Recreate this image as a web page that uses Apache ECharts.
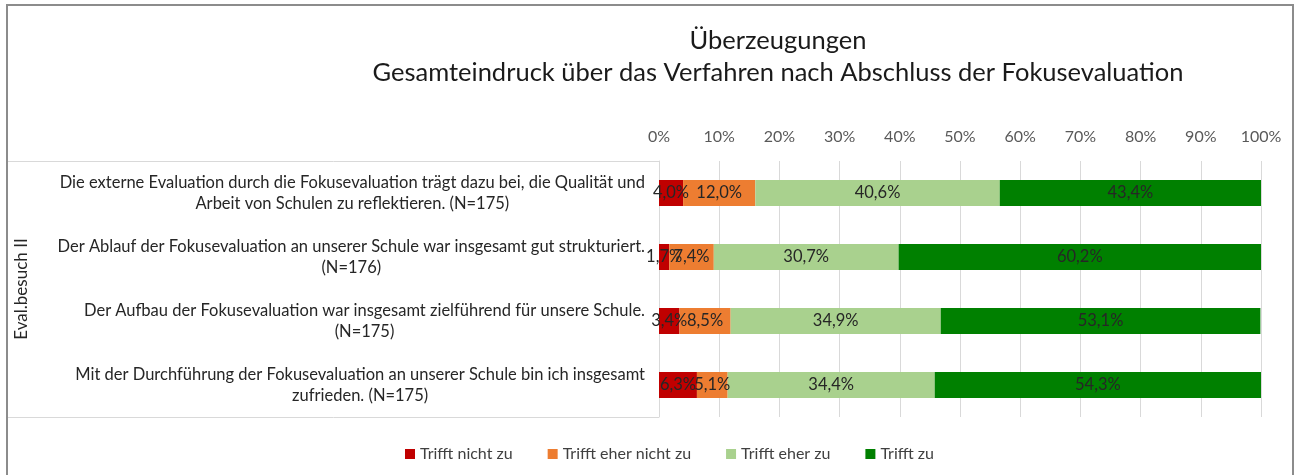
<!DOCTYPE html>
<html>
<head>
<meta charset="utf-8">
<script src="https://cdn.jsdelivr.net/npm/echarts@6/dist/echarts.min.js"></script>
<style>
  html, body { margin: 0; padding: 0; background: #fff; }
  #chart { width: 1297px; height: 475px; }
</style>
</head>
<body>
<div id="chart"></div>
<script>
// Aussagen (von oben nach unten)
const categories = [
  'Die externe Evaluation durch die Fokusevaluation trägt dazu bei, die Qualität und\nArbeit von Schulen zu reflektieren. (N=175)',
  'Der Ablauf der Fokusevaluation an unserer Schule war insgesamt gut strukturiert.\n(N=176)',
  'Der Aufbau der Fokusevaluation war insgesamt zielführend für unsere Schule.\n(N=175)',
  'Mit der Durchführung der Fokusevaluation an unserer Schule bin ich insgesamt\nzufrieden. (N=175)'
];
const seriesNames = ['Trifft nicht zu', 'Trifft eher nicht zu', 'Trifft eher zu', 'Trifft zu'];
const trifftNicht = [4.0, 1.7, 3.4, 6.3];
const trifftEherNicht = [12.0, 7.4, 8.5, 5.1];
const trifftEher = [40.6, 30.7, 34.9, 34.4];
const trifftZu = [43.4, 60.2, 53.1, 54.3];
const groupLabel = 'Eval.besuch II';

const colors = ['#c00000', '#ed7d31', '#a9d18e', '#008000'];
const font = 'Lato, "Open Sans", sans-serif';

const chart = echarts.init(document.getElementById('chart'));

const fmtPct = v => v.toFixed(1).replace('.', ',') + '%';

const series = [trifftNicht, trifftEherNicht, trifftEher, trifftZu].map((data, i) => ({
  name: seriesNames[i],
  type: 'bar',
  stack: 'total',
  barWidth: 26,
  data: data,
  itemStyle: { color: colors[i] },
  label: {
    show: true,
    position: 'inside',
    color: '#262626',
    fontFamily: font,
    fontSize: 16.5,
    formatter: p => fmtPct(p.value)
  }
}));

const option = {
  animation: false,
  title: {
    text: 'Überzeugungen\nGesamteindruck über das Verfahren nach Abschluss der Fokusevaluation',
    left: 773,
    top: 20,
    textAlign: 'center',
    textStyle: {
      fontFamily: font,
      fontWeight: 'normal',
      fontSize: 25.5,
      lineHeight: 32,
      color: '#1a1a1a'
    }
  },
  legend: {
    data: seriesNames,
    left: 400,
    top: 441,
    itemWidth: 10,
    itemHeight: 10,
    itemGap: 35,
    icon: 'rect',
    textStyle: { fontFamily: font, fontSize: 16, color: '#404040' }
  },
  grid: { left: 659, right: 36, top: 161, bottom: 58 },
  xAxis: {
    type: 'value',
    position: 'top',
    min: 0,
    max: 100,
    interval: 10,
    axisLine: { show: false },
    axisTick: { show: false },
    splitLine: { lineStyle: { color: '#d9d9d9', width: 1 } },
    axisLabel: {
      margin: 16,
      fontFamily: font,
      fontSize: 16,
      color: '#595959',
      formatter: v => v + '%'
    }
  },
  yAxis: {
    type: 'category',
    inverse: true,
    data: categories,
    axisLine: { show: true, lineStyle: { color: '#d9d9d9' } },
    axisTick: { show: false },
    name: groupLabel,
    nameLocation: 'middle',
    nameRotate: 90,
    nameGap: 629,
    nameTextStyle: { fontFamily: font, fontSize: 17, color: '#262626' },
    axisLabel: {
      margin: 14,
      align: 'right',
      formatter: v => v.split('\n').map(s => '{c|' + s + '}').join('\n'),
      rich: {
        c: {
          align: 'center',
          fontFamily: font,
          fontSize: 16.5,
          lineHeight: 21,
          color: '#262626'
        }
      }
    }
  },
  graphic: [
    {
      type: 'rect',
      shape: { x: 7, y: 5, width: 1286, height: 480 },
      style: { fill: 'none', stroke: '#8c8c8c', lineWidth: 2 },
      silent: true
    },
    {
      type: 'line',
      shape: { x1: 8, y1: 161.5, x2: 659, y2: 161.5 },
      style: { stroke: '#d9d9d9', lineWidth: 1 },
      silent: true
    },
    {
      type: 'line',
      shape: { x1: 8, y1: 417.5, x2: 659, y2: 417.5 },
      style: { stroke: '#d9d9d9', lineWidth: 1 },
      silent: true
    }
  ],
  series: series
};

chart.setOption(option);
</script>
</body>
</html>
